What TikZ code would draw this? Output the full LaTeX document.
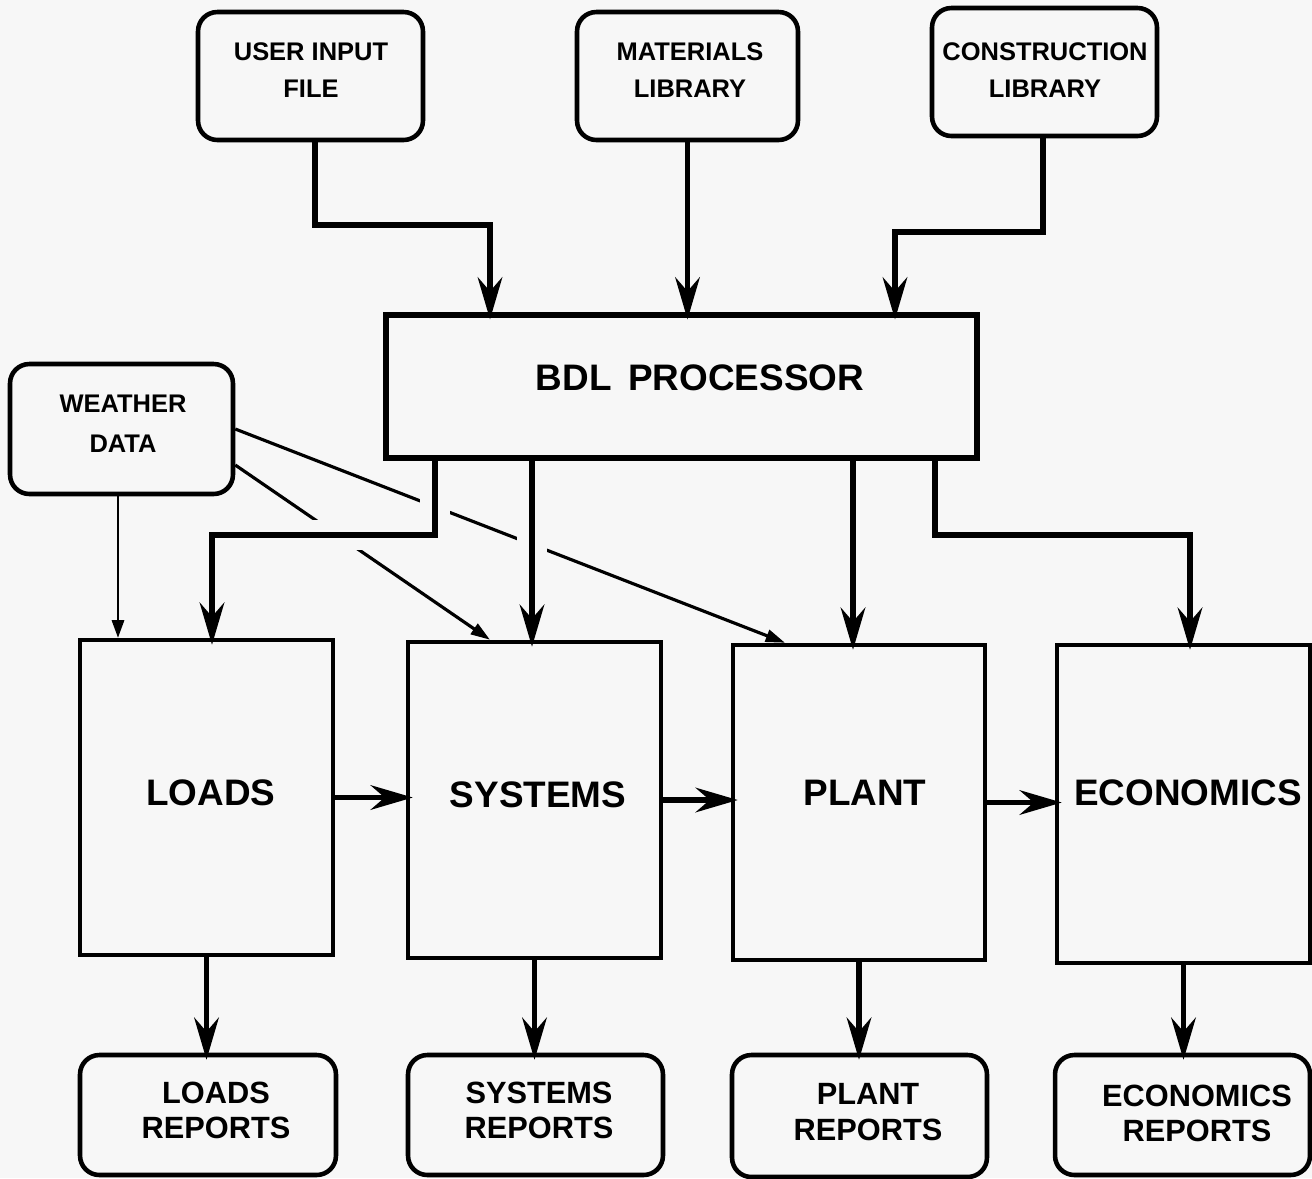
\documentclass[tikz,border=0pt]{standalone}
\usepackage{fontspec}
\setmainfont{Liberation Sans}
\usetikzlibrary{arrows.meta,calc}
\definecolor{bg}{gray}{0.97}
\pgfdeclarelayer{background}
\pgfdeclarelayer{weak}
\pgfdeclarelayer{conn}
\pgfsetlayers{background,weak,conn,main}
\tikzset{
  rbox/.style={draw, line width=2.6pt, rounded corners=11pt, inner sep=0pt},
  sqbox/.style={draw, line width=2.6pt, inner sep=0pt},
  lblS/.style={font=\bfseries\fontsize{14.5}{21.5}\selectfont, align=center, inner sep=0pt},
  lblW/.style={font=\bfseries\fontsize{14.5}{23}\selectfont, align=center, inner sep=0pt},
  lblR/.style={font=\bfseries\fontsize{17.5}{20}\selectfont, align=center, inner sep=0pt},
  lblB/.style={font=\bfseries\fontsize{21}{24}\selectfont, inner sep=0pt},
  conn/.style={line width=3pt, -{Stealth[length=24pt,width=14pt,inset=8pt]}, shorten >=-4pt},
  halo/.style={preaction={draw=bg, line width=0.6cm, arrows=-, shorten >=0pt, shorten <=0pt}},
  wline/.style={line width=1.8pt, -{Triangle[length=11pt,width=7pt]}},
  wthin/.style={line width=1.2pt, -{Triangle[length=10pt,width=7pt]}},
}
\begin{document}
\begin{tikzpicture}[x=0.02cm,y=-0.02cm]
\useasboundingbox (0,0) rectangle (1312,1178);
\begin{pgfonlayer}{background}
\fill[bg] (0,0) rectangle (1312,1178);
\end{pgfonlayer}

% boxes
\node[rbox, minimum width=4.5cm, minimum height=2.56cm] (ui) at (310.5,76) {};
\node[rbox, minimum width=4.42cm, minimum height=2.56cm] (mat) at (687.5,76) {};
\node[rbox, minimum width=4.5cm, minimum height=2.56cm] (con) at (1044.5,72) {};
\node[sqbox, line width=3pt, minimum width=11.82cm, minimum height=2.86cm] (bdl) at (681.5,386.5) {};
\node[rbox, minimum width=4.46cm, minimum height=2.6cm] (wea) at (121.5,429) {};
\node[sqbox, minimum width=5.06cm, minimum height=6.3cm] (loads) at (206.5,797.5) {};
\node[sqbox, minimum width=5.06cm, minimum height=6.32cm] (sys) at (534.5,800) {};
\node[sqbox, minimum width=5.04cm, minimum height=6.3cm] (plant) at (859,802.5) {};
\node[sqbox, minimum width=5.06cm, minimum height=6.36cm] (econ) at (1183.5,804) {};
\node[rbox, minimum width=5.12cm, minimum height=2.4cm] (lr) at (208,1115) {};
\node[rbox, minimum width=5.1cm, minimum height=2.4cm] (sr) at (535.5,1115) {};
\node[rbox, minimum width=5.1cm, minimum height=2.44cm] (pr) at (859.5,1116) {};
\node[rbox, minimum width=5.1cm, minimum height=2.4cm] (er) at (1182.5,1115) {};

% labels
\node[lblS] (tui) at (311,70) {USER INPUT\\FILE};
\node[lblS] (tmat) at (690,70) {MATERIALS\\LIBRARY};
\node[lblS] (tcon) at (1045,70) {CONSTRUCTION\\LIBRARY};
\node[lblB] (tbdl) at (700,378) {BDL\hspace{0.45em}PROCESSOR};
\node[lblW] (twea) at (123,424) {WEATHER\\DATA};
\node[lblB] (tloads) at (211,793) {LOADS};
\node[lblB] (tsys) at (538,795) {SYSTEMS};
\node[lblB] (tplant) at (865,793) {PLANT};
\node[lblB] (tecon) at (1188,793) {ECONOMICS};
\node[lblR] (tlr) at (216,1110) {LOADS\\REPORTS};
\node[lblR] (tsr) at (539,1110) {SYSTEMS\\REPORTS};
\node[lblR] (tpr) at (868,1112) {PLANT\\REPORTS};
\node[lblR] (ter) at (1197,1113) {ECONOMICS\\REPORTS};

% bend coordinates
\coordinate (k1) at (315,225);
\coordinate (k2) at (490,225);
\coordinate (k3) at (1043,232);
\coordinate (k4) at (895,232);
\coordinate (k5) at (435,535);
\coordinate (k6) at (212,535);
\coordinate (k7) at (532,500);
\coordinate (k8) at (853,500);
\coordinate (k9) at (935,535);
\coordinate (k10) at (1190,535);
\coordinate (w2) at (0,465);
\coordinate (p1) at (785,600);
\coordinate (s1) at (490,600);
\coordinate (s2) at (118,600);

% weather lines (under the halos)
\begin{pgfonlayer}{weak}
\draw[wline] (wea.east) -- (p1 |- plant.north);
\draw[wline] (w2 -| wea.east) -- (s1 |- sys.north);
\draw[wthin] (s2 |- wea.south) -- (s2 |- loads.north);
\end{pgfonlayer}

% main connectors
\begin{pgfonlayer}{conn}
\draw[conn] (ui.south -| k1) -- (k1) -- (k2) -- (k2 |- bdl.north);
\draw[conn] (mat.south) -- (mat.south |- bdl.north);
\draw[conn] (con.south -| k3) -- (k3) -- (k4) -- (k4 |- bdl.north);
\draw[conn,halo] (bdl.south -| k5) -- (k5) -- (k6) -- (k6 |- loads.north);
\draw[conn,halo] (bdl.south -| k7) -- (k7 |- sys.north);
\draw[conn] (bdl.south -| k8) -- (k8 |- plant.north);
\draw[conn] (bdl.south -| k9) -- (k9) -- (k10) -- (k10 |- econ.north);
\draw[conn] (loads.east) -- (loads.east -| sys.west);
\draw[conn] (sys.east) -- (sys.east -| plant.west);
\draw[conn] (plant.east) -- (plant.east -| econ.west);
\draw[conn] (loads.south) -- (loads.south |- lr.north);
\draw[conn] (sys.south) -- (sys.south |- sr.north);
\draw[conn] (plant.south) -- (plant.south |- pr.north);
\draw[conn] (econ.south) -- (econ.south |- er.north);
\end{pgfonlayer}
\end{tikzpicture}
\end{document}
